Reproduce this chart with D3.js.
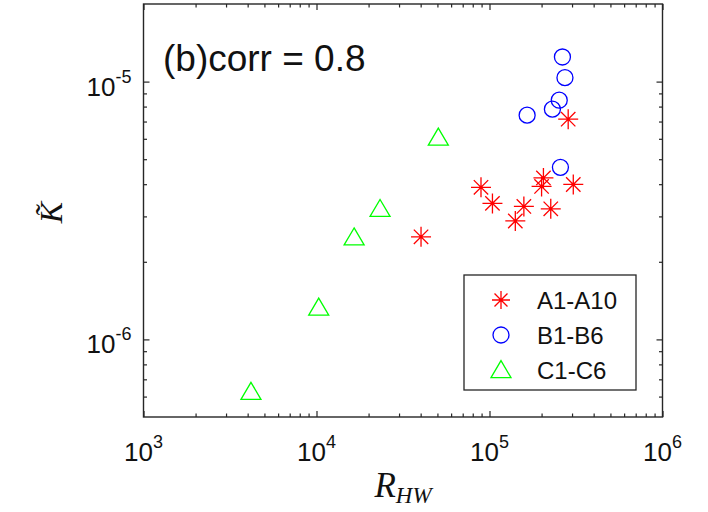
<!DOCTYPE html>
<html>
<head>
<meta charset="utf-8">
<script src="https://cdn.jsdelivr.net/npm/d3@7"></script>
<style>
  html, body { margin: 0; padding: 0; background: #fff; }
  svg { display: block; }
  text { font-family: "Liberation Sans", Arial, sans-serif; fill: #111; }
</style>
</head>
<body>
<svg id="chart" width="708" height="512"></svg>
<script>
// Group A1-A10 (asterisks): [R_HW, K~]
const groupA = [
  [2.85e5, 7.15e-6],
  [2.05e5, 4.23e-6],
  [2.00e5, 3.92e-6],
  [3.05e5, 3.99e-6],
  [8.93e4, 3.89e-6],
  [1.04e5, 3.37e-6],
  [1.58e5, 3.28e-6],
  [2.26e5, 3.21e-6],
  [1.41e5, 2.88e-6],
  [4.02e4, 2.50e-6]
];
// Group B1-B6 (circles)
const groupB = [
  [2.64e5, 1.246e-5],
  [2.73e5, 1.036e-5],
  [2.53e5, 8.47e-6],
  [2.31e5, 7.82e-6],
  [1.65e5, 7.41e-6],
  [2.57e5, 4.65e-6]
];
// Group C1-C6 (triangles)
const groupC = [
  [5.06e4, 6.07e-6],
  [2.33e4, 3.21e-6],
  [1.65e4, 2.49e-6],
  [1.03e4, 1.33e-6],
  [4.18e3, 6.27e-7]
];
const legendLabels = ["A1-A10", "B1-B6", "C1-C6"];
const xMajor = [1e3, 1e4, 1e5, 1e6];
const yMajor = [1e-6, 1e-5];
const xExp = [3, 4, 5, 6];
const yExp = [-6, -5];
const titleText = "(b)corr = 0.8";

const svg = d3.select("#chart");
const plotL = 143.5, plotR = 662.5, plotT = 4, plotB = 417;

const x = d3.scaleLog().domain([1e3, 1e6]).range([plotL, plotR]);
const y = d3.scaleLog().domain([5e-7, 2e-5]).range([plotB, plotT]);

// minor ticks: 2..9 within every decade inside the domain
function minors(scale) {
  const [a, b] = scale.domain();
  const out = [];
  for (let e = Math.floor(Math.log10(a)); e < Math.ceil(Math.log10(b)); e++) {
    for (let m = 2; m <= 9; m++) {
      const v = m * Math.pow(10, e);
      if (v > a * 1.0001 && v < b * 0.9999) out.push(v);
    }
  }
  return out;
}
const xMinor = minors(x);
const yMinor = minors(y);

const axisColor = "#262626";
function styleAxis(g) {
  g.select(".domain").remove();
  g.selectAll(".tick line").attr("stroke", axisColor).attr("stroke-width", 1.2);
  g.selectAll(".tick text").remove();
}

// ticks on all four sides, pointing inward
const majLen = 6, minLen = 3.5;
[[xMajor, majLen], [xMinor, minLen]].forEach(([vals, len]) => {
  svg.append("g").attr("transform", `translate(0,${plotB})`)
    .call(d3.axisBottom(x).tickValues(vals).tickSize(-len).tickFormat("")).call(styleAxis);
  svg.append("g").attr("transform", `translate(0,${plotT})`)
    .call(d3.axisTop(x).tickValues(vals).tickSize(-len).tickFormat("")).call(styleAxis);
});
[[yMajor, majLen], [yMinor, minLen]].forEach(([vals, len]) => {
  svg.append("g").attr("transform", `translate(${plotL},0)`)
    .call(d3.axisLeft(y).tickValues(vals).tickSize(-len).tickFormat("")).call(styleAxis);
  svg.append("g").attr("transform", `translate(${plotR},0)`)
    .call(d3.axisRight(y).tickValues(vals).tickSize(-len).tickFormat("")).call(styleAxis);
});

// plot box
svg.append("rect")
  .attr("x", plotL).attr("y", plotT)
  .attr("width", plotR - plotL).attr("height", plotB - plotT)
  .attr("fill", "none").attr("stroke", axisColor).attr("stroke-width", 1.4);

// power-of-ten tick labels
xMajor.forEach((v, i) => {
  const t = svg.append("text")
    .attr("x", x(v)).attr("y", 461)
    .attr("text-anchor", "middle")
    .style("font-size", "26px");
  t.append("tspan").text("10");
  t.append("tspan").attr("dy", -13).style("font-size", "18px").text(xExp[i]);
});
yMajor.forEach((v, i) => {
  const t = svg.append("text")
    .attr("x", plotL - 12).attr("y", y(v) + 14)
    .attr("text-anchor", "end")
    .style("font-size", "26px");
  t.append("tspan").text("10");
  t.append("tspan").attr("dy", -13).style("font-size", "18px").text(yExp[i]);
});

// axis titles
const xl = svg.append("text")
  .attr("x", (plotL + plotR) / 2).attr("y", 497)
  .attr("text-anchor", "middle")
  .style("font-family", "'Liberation Serif', 'DejaVu Serif', serif")
  .style("font-style", "italic")
  .style("font-size", "35px");
xl.append("tspan").text("R");
xl.append("tspan").attr("dy", 6).style("font-size", "23px").text("HW");

svg.append("text")
  .attr("transform", `translate(62,${(plotT + plotB) / 2 + 2}) rotate(-90)`)
  .attr("text-anchor", "middle")
  .style("font-family", "'Liberation Serif', 'DejaVu Serif', serif")
  .style("font-style", "italic")
  .style("font-size", "32px")
  .text("K\u0303");

// annotation
svg.append("text")
  .attr("x", 163).attr("y", 71)
  .style("font-size", "37px")
  .text(titleText);

// marker shapes
const starPath = (r) => {
  const d = r * 0.72;
  return `M${-r},0L${r},0M0,${-r}L0,${r}M${-d},${-d}L${d},${d}M${-d},${d}L${d},${-d}`;
};
const triPath = (w, h) => `M0,${-h * 0.55}L${w / 2},${h * 0.45}L${-w / 2},${h * 0.45}Z`;

const markStyle = (sel, color) => sel
  .attr("fill", "none").attr("stroke", color).attr("stroke-width", 1.3);

svg.append("g").selectAll("path").data(groupC).join("path")
  .attr("transform", d => `translate(${x(d[0])},${y(d[1])})`)
  .attr("d", triPath(20, 17))
  .call(markStyle, "#00ff00");

svg.append("g").selectAll("circle").data(groupB).join("circle")
  .attr("cx", d => x(d[0])).attr("cy", d => y(d[1])).attr("r", 8)
  .call(markStyle, "#0000ff");

svg.append("g").selectAll("path").data(groupA).join("path")
  .attr("transform", d => `translate(${x(d[0])},${y(d[1])})`)
  .attr("d", starPath(10))
  .call(markStyle, "#ff0000");

// legend
const lg = svg.append("g");
lg.append("rect")
  .attr("x", 464).attr("y", 275).attr("width", 172).attr("height", 115)
  .attr("fill", "#fff").attr("stroke", axisColor).attr("stroke-width", 1.3);
const rows = [275 + 25, 275 + 60, 275 + 95];
lg.append("path").attr("transform", `translate(501,${rows[0]})`).attr("d", starPath(9)).call(markStyle, "#ff0000");
lg.append("circle").attr("cx", 501).attr("cy", rows[1]).attr("r", 8).call(markStyle, "#0000ff");
lg.append("path").attr("transform", `translate(501,${rows[2]})`).attr("d", triPath(20, 17)).call(markStyle, "#00ff00");
legendLabels.forEach((lab, i) => {
  lg.append("text").attr("x", 537).attr("y", rows[i] + 9)
    .style("font-size", "24px").text(lab);
});
</script>
</body>
</html>
